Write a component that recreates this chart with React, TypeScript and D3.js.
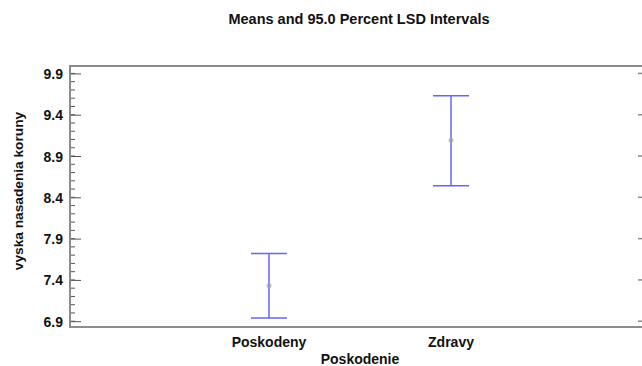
import React, { useRef, useEffect } from "react";
import * as d3 from "d3";

const groups = ["Poskodeny", "Zdravy"];
const means = [7.33, 9.09];
const lowerLimits = [6.94, 8.54];
const upperLimits = [7.72, 9.63];
const yTicks = [6.9, 7.4, 7.9, 8.4, 8.9, 9.4, 9.9];

const chartTitle = "Means and 95.0 Percent LSD Intervals";
const xTitle = "Poskodenie";
const yTitle = "vyska nasadenia koruny";

const FONT = "'Liberation Sans', Arial, sans-serif";

const MeansChart = () => {
  const svgRef = useRef<SVGSVGElement>(null);

  useEffect(() => {
    const width = 642;
    const height = 366;
    const margin = { top: 66, right: -8, bottom: 39, left: 70 };

    const svg = d3.select(svgRef.current);
    svg.selectAll("*").remove();

    const x = d3.scalePoint()
      .domain(groups)
      .range([margin.left, width - margin.right])
      .padding(1.093);

    const y = d3.scaleLinear()
      .domain([6.83, 9.99])
      .range([height - margin.bottom, margin.top]);

    const left = margin.left;
    const right = width - margin.right;
    const top = margin.top;
    const bottom = height - margin.bottom;

    // minor ticks every 0.1
    const minor = d3.range(69, 100).map(v => v / 10);

    svg.append("g")
      .selectAll("line")
      .data(minor)
      .join("line")
      .attr("x1", left)
      .attr("x2", left + 5)
      .attr("y1", d => y(d))
      .attr("y2", d => y(d))
      .attr("stroke", "#555")
      .attr("stroke-width", 1);

    // major ticks left
    const yAxis = svg.append("g")
      .attr("transform", `translate(${left},0)`)
      .call(d3.axisLeft(y).tickValues(yTicks).tickSize(-11).tickPadding(7).tickFormat(d3.format(".1f")));
    yAxis.select(".domain").remove();
    yAxis.selectAll(".tick line").attr("stroke", "#555").attr("stroke-width", 1);
    yAxis.selectAll(".tick text")
      .attr("font-family", FONT)
      .attr("font-weight", "bold")
      .attr("font-size", "14px")
      .attr("fill", "#111")
      .attr("dy", "0.36em");

    // major ticks right
    svg.append("g")
      .selectAll("line")
      .data(yTicks)
      .join("line")
      .attr("x1", right - 12)
      .attr("x2", right)
      .attr("y1", d => y(d))
      .attr("y2", d => y(d))
      .attr("stroke", "#888")
      .attr("stroke-width", 1.5);

    // frame
    svg.append("rect")
      .attr("x", left)
      .attr("y", top)
      .attr("width", right - left)
      .attr("height", bottom - top)
      .attr("fill", "none")
      .attr("stroke", "#8c8c8c")
      .attr("stroke-width", 2);

    // intervals
    const rows = groups.map((g, i) => ({ g, mean: means[i], lo: lowerLimits[i], hi: upperLimits[i] }));
    const bars = svg.append("g").selectAll("g").data(rows).join("g");
    const cap = 18;

    bars.append("line")
      .attr("x1", d => x(d.g))
      .attr("x2", d => x(d.g))
      .attr("y1", d => y(d.lo))
      .attr("y2", d => y(d.hi))
      .attr("stroke", "#6464ff")
      .attr("stroke-width", 1.5);

    bars.append("line")
      .attr("x1", d => x(d.g) - cap)
      .attr("x2", d => x(d.g) + cap)
      .attr("y1", d => y(d.hi))
      .attr("y2", d => y(d.hi))
      .attr("stroke", "#6464ff")
      .attr("stroke-width", 1.5);

    bars.append("line")
      .attr("x1", d => x(d.g) - cap)
      .attr("x2", d => x(d.g) + cap)
      .attr("y1", d => y(d.lo))
      .attr("y2", d => y(d.lo))
      .attr("stroke", "#6464ff")
      .attr("stroke-width", 1.5);

    bars.append("circle")
      .attr("cx", d => x(d.g))
      .attr("cy", d => y(d.mean))
      .attr("r", 2)
      .attr("fill", "none")
      .attr("stroke", "#a8a880")
      .attr("stroke-width", 1);

    // category labels
    svg.append("g")
      .selectAll("text")
      .data(groups)
      .join("text")
      .attr("x", d => x(d))
      .attr("y", 347)
      .attr("text-anchor", "middle")
      .attr("font-family", FONT)
      .attr("font-weight", "bold")
      .attr("font-size", "14px")
      .attr("fill", "#111")
      .text(d => d);

    // titles
    svg.append("text")
      .attr("x", (left + right) / 2)
      .attr("y", 364)
      .attr("text-anchor", "middle")
      .attr("font-family", FONT)
      .attr("font-weight", "bold")
      .attr("font-size", "14px")
      .attr("fill", "#111")
      .text(xTitle);

    svg.append("text")
      .attr("transform", `translate(23,191) rotate(-90)`)
      .attr("text-anchor", "middle")
      .attr("font-family", FONT)
      .attr("font-weight", "bold")
      .attr("font-size", "13.7px")
      .attr("fill", "#111")
      .text(yTitle);

    svg.append("text")
      .attr("x", 359)
      .attr("y", 24)
      .attr("text-anchor", "middle")
      .attr("font-family", FONT)
      .attr("font-weight", "bold")
      .attr("font-size", "14.5px")
      .attr("fill", "#111")
      .text(chartTitle);
  }, []);

  return (
    <svg
      ref={svgRef}
      width={642}
      height={366}
      style={{ position: "absolute", left: 0, top: 0, background: "#fff" }}
    />
  );
};

export default function App() {
  return <MeansChart />;
}
